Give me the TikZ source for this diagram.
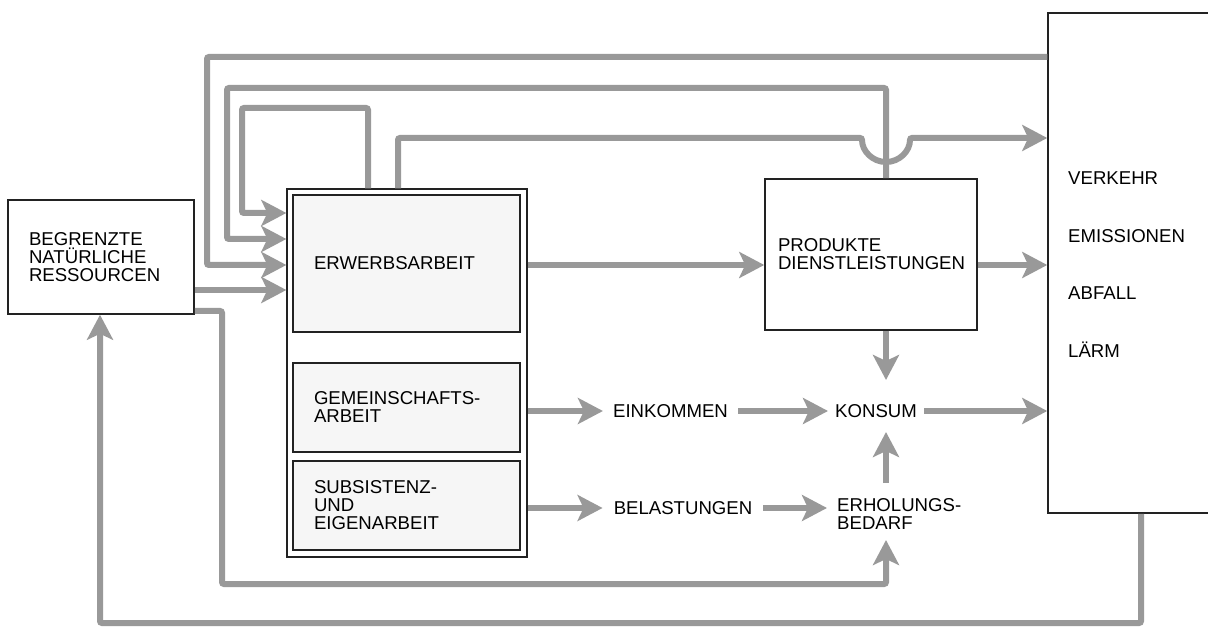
\documentclass[tikz,border=0pt]{standalone}
\usepackage{fontspec}
\setmainfont{Liberation Sans}
\usetikzlibrary{arrows.meta}
\definecolor{flowgray}{HTML}{999999}
\definecolor{boxline}{HTML}{222222}
\definecolor{boxfill}{HTML}{F6F6F6}
\begin{document}
\begin{tikzpicture}[x=1pt,y=-1pt,
  txt/.style={font=\fontsize{18.6}{18}\selectfont},
  lbl/.style={txt, inner ysep=0pt, align=left},
  box/.style={txt, draw=boxline, line width=1.5pt, inner ysep=0pt, align=left, anchor=center},
  flow/.style={draw=flowgray, line width=6pt, rounded corners=2pt, -{Stealth[length=25pt,width=26pt,inset=6pt]}},
  pipe/.style={draw=flowgray, line width=6pt, rounded corners=2pt}]
\useasboundingbox (0,0) rectangle (1208,628);

% helper coordinates
\coordinate (yA) at (0,57);
\coordinate (yD) at (0,138);
\coordinate (y213) at (0,213);
\coordinate (y239) at (0,239);
\coordinate (y265) at (0,265);
\coordinate (y290) at (0,290);
\coordinate (y311) at (0,311);
\coordinate (x886) at (886,0);
\coordinate (x368) at (368,0);
\coordinate (x398) at (398,0);
\coordinate (x1141) at (1141,0);
\coordinate (x100) at (100,0);

% boxes
\node[box, fill=white, minimum width=186pt, minimum height=114pt, inner xsep=21pt, text width=144pt] (res) at (101,257) {BEGRENZTE\\NAT\"URLICHE\\RESSOURCEN};
\node[draw=boxline, line width=1.3pt, fill=white, minimum width=240pt, minimum height=368pt, inner sep=0pt] (outer) at (407,373) {};
\node[box, fill=boxfill, minimum width=227pt, minimum height=137pt, inner xsep=21pt, text width=185pt] (erw) at (406.5,263.5) {ERWERBSARBEIT};
\node[box, fill=boxfill, minimum width=227pt, minimum height=89pt, inner xsep=21pt, text width=185pt] (gem) at (406.5,407.5) {GEMEINSCHAFTS-\\ARBEIT};
\node[box, fill=boxfill, minimum width=227pt, minimum height=89pt, inner xsep=21pt, text width=185pt] (sub) at (406.5,505.5) {SUBSISTENZ-\\UND\\EIGENARBEIT};
\node[box, fill=white, minimum width=212pt, minimum height=151pt, inner xsep=13pt, text width=186pt] (prod) at (871,254.5) {PRODUKTE\\DIENSTLEISTUNGEN};
\node[draw=boxline, line width=1.5pt, fill=white, minimum width=192pt, minimum height=500pt, inner sep=0pt] (env) at (1144,263) {};

\node[lbl, inner xsep=0pt, anchor=base west] (t1) at (1068,185) {VERKEHR};
\node[lbl, inner xsep=0pt, anchor=base west] (t2) at (1068,243) {EMISSIONEN};
\node[lbl, inner xsep=0pt, anchor=base west] (t3) at (1068,300) {ABFALL};
\node[lbl, inner xsep=0pt, anchor=base west] (t4) at (1068,358) {L\"ARM};

% labels
\node[lbl, inner xsep=10pt] (ein) at (670.5,411) {EINKOMMEN};
\node[lbl, inner xsep=7pt, anchor=west] (kon) at (828,411) {KONSUM};
\node[lbl, inner xsep=11pt] (bel) at (683,508) {BELASTUNGEN};
\node[lbl, inner xsep=10pt, anchor=west] (erh) at (827,514) {ERHOLUNGS-\\BEDARF};

% flows
\draw[flow] (env.west |- yA) -| (207,265) -- (outer.west |- y265);
\draw[flow] (prod.north -| x886) |- (227,88) |- (outer.west |- y239);
\draw[flow] (outer.north -| x368) |- (242,108) |- (outer.west |- y213);
\draw[flow] (outer.north -| x398) |- (862,138) arc[start angle=180,end angle=360,radius=24pt] -- (env.west |- yD);
\draw[flow] (outer.east |- y265) -- (prod.west |- y265);
\draw[flow] (prod.east |- y265) -- (env.west |- y265);
\draw[flow] (prod.south -| x886) -- (886,380);
\draw[flow] (outer.east |- ein.west) -- (ein.west);
\draw[flow] (ein.east) -- (kon.west);
\draw[flow] (kon.east) -- (env.west |- kon.east);
\draw[flow] (outer.east |- bel.west) -- (bel.west);
\draw[flow] (bel.east) -- (bel.east -| erh.west);
\draw[flow] (886,483) -- (886,432);
\draw[flow] (res.east |- y290) -- (outer.west |- y290);
\draw[flow] (res.east |- y311) -| (222,584) -| (886,540);
\draw[flow] (env.south -| x1141) |- (100,623) -- (res.south -| x100);
\end{tikzpicture}
\end{document}
